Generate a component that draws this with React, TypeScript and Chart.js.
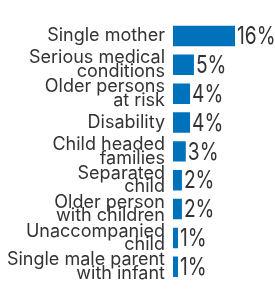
import React, { useEffect, useRef } from 'react';
import { Chart, registerables } from 'chart.js';

Chart.register(...registerables);

const categories: string[][] = [
  ['Single mother'],
  ['Serious medical', 'conditions'],
  ['Older persons', 'at risk'],
  ['Disability'],
  ['Child headed', 'families'],
  ['Separated', 'child'],
  ['Older person', 'with children'],
  ['Unaccompanied', 'child'],
  ['Single male parent', 'with infant'],
];

const values: number[] = [16, 5.4, 4.4, 4.4, 3.3, 2.3, 2.3, 1.3, 1.3];
const valueLabels: string[] = ['16%', '5%', '4%', '4%', '3%', '2%', '2%', '1%', '1%'];

const BAR_COLOR = '#0072BC';
const TEXT_COLOR = '#333333';

const valueLabelPlugin = {
  id: 'valueLabels',
  afterDatasetsDraw(chart: any) {
    const ctx = chart.ctx;
    const meta = chart.getDatasetMeta(0);
    ctx.save();
    ctx.font = '24px Inter';
    ctx.fillStyle = TEXT_COLOR;
    ctx.textBaseline = 'middle';
    ctx.textAlign = 'left';
    meta.data.forEach((bar: any, i: number) => {
      ctx.save();
      ctx.translate(bar.x + 2, bar.y + 1);
      ctx.scale(0.8, 1);
      ctx.fillText(valueLabels[i], 0, 0);
      ctx.restore();
    });
    ctx.restore();
  },
};

export default function App() {
  const canvasRef = useRef<HTMLCanvasElement | null>(null);

  useEffect(() => {
    if (!canvasRef.current) return;
    const chart = new Chart(canvasRef.current, {
      type: 'bar',
      data: {
        labels: categories,
        datasets: [
          {
            data: values,
            backgroundColor: BAR_COLOR,
            borderWidth: 0,
            barPercentage: 0.71,
            categoryPercentage: 1,
          },
        ],
      },
      options: {
        indexAxis: 'y',
        animation: false,
        responsive: true,
        maintainAspectRatio: false,
        layout: { padding: { left: 0, right: 40, top: 6, bottom: 1 } },
        plugins: {
          legend: { display: false },
          tooltip: { enabled: false },
        },
        scales: {
          x: { display: false, min: 0, max: 16 },
          y: {
            grid: { display: false, drawTicks: false },
            border: { display: false },
            ticks: {
              autoSkip: false,
              padding: 8,
              color: TEXT_COLOR,
              font: { family: 'Inter', size: 18, lineHeight: '13.5px' },
            },
            afterFit: (scale: any) => {
              scale.width = 173;
            },
          },
        },
      },
      plugins: [valueLabelPlugin],
    });
    return () => chart.destroy();
  }, []);

  return (
    <div style={{ position: 'fixed', left: 0, top: 0, width: 275, height: 296 }}>
      <canvas ref={canvasRef} />
    </div>
  );
}
